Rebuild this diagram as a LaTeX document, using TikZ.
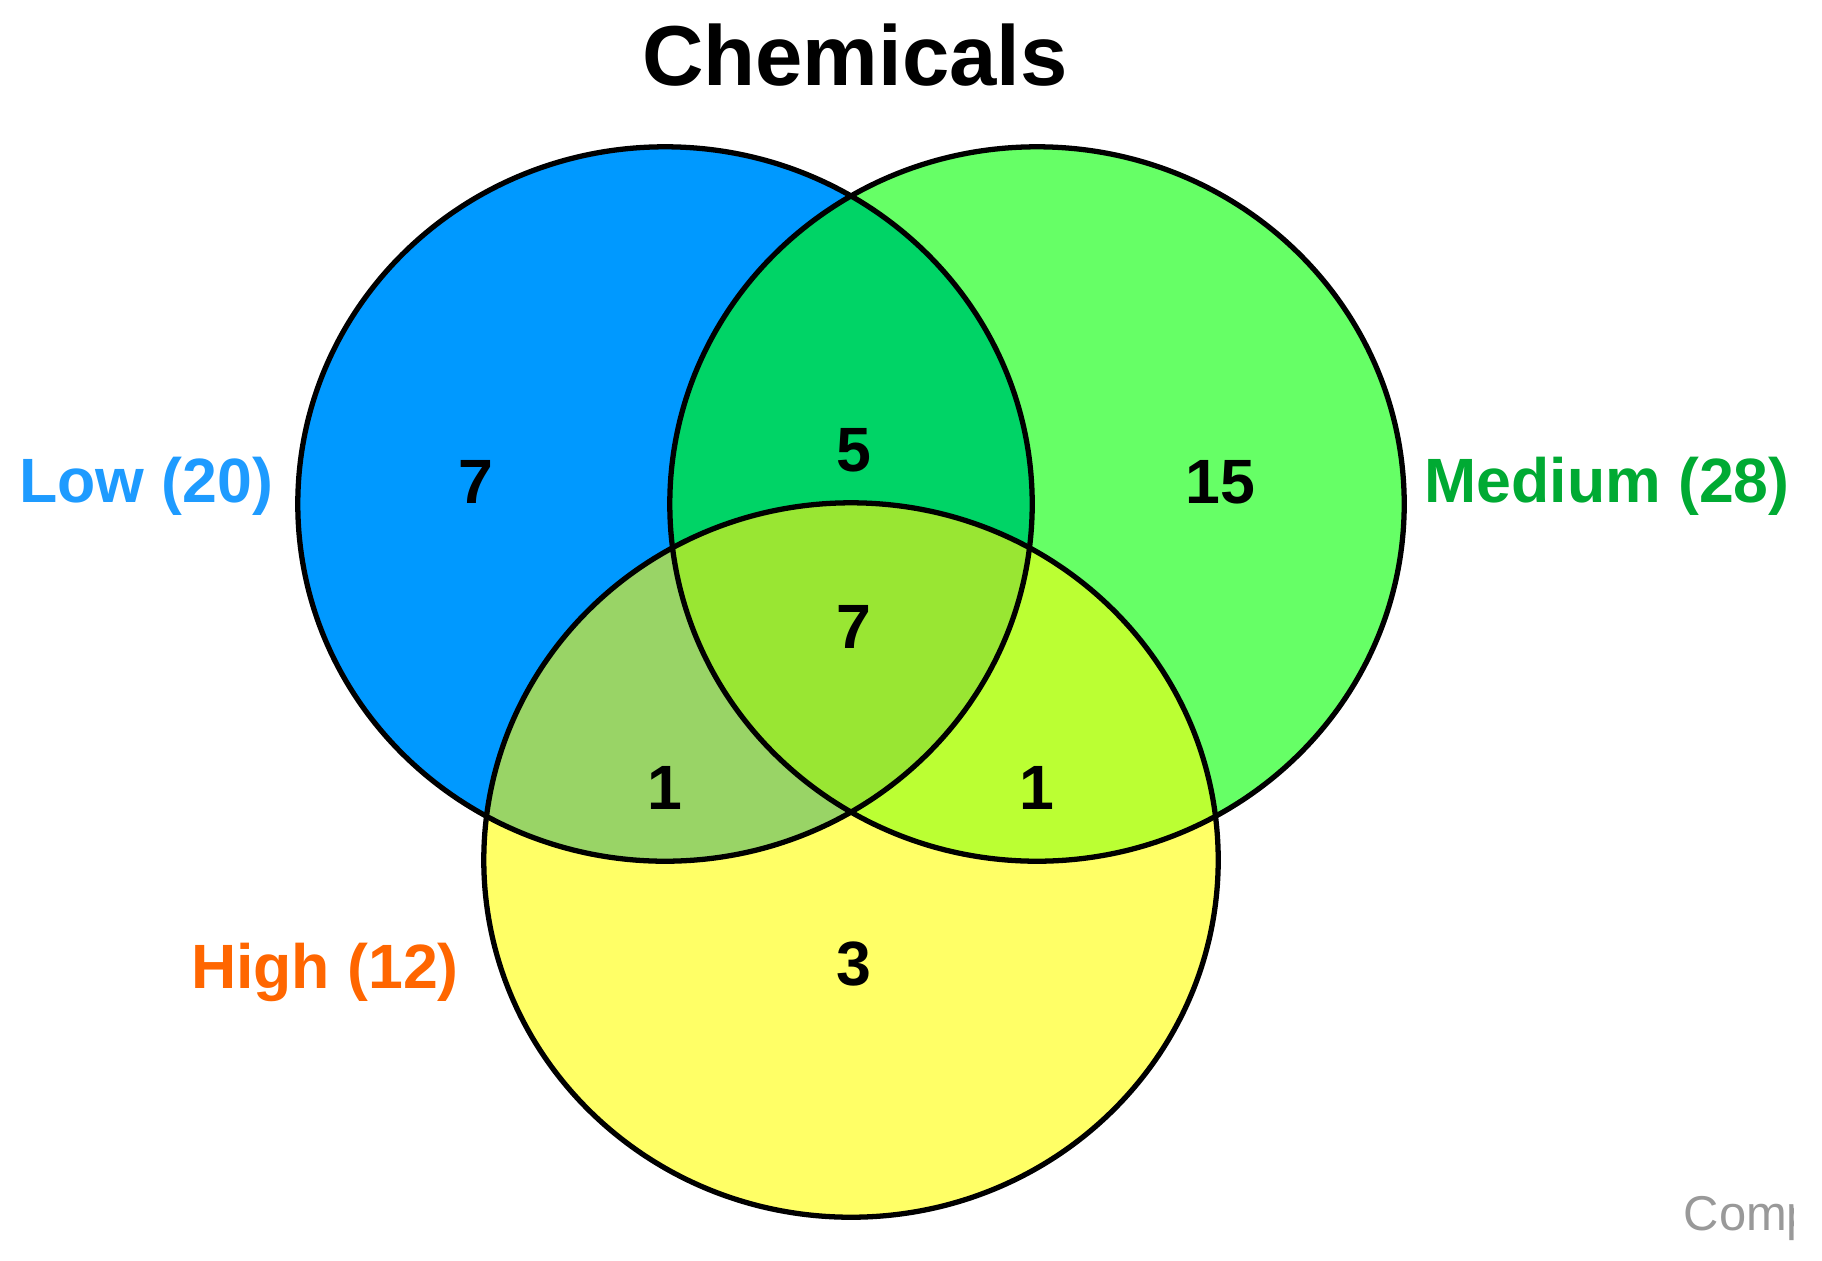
\documentclass[tikz,border=0pt]{standalone}
\usepackage{fontspec}
\setmainfont{Liberation Sans}
\definecolor{cblue}{HTML}{0099FF}
\definecolor{cgreen}{HTML}{66FF66}
\definecolor{cyellow}{HTML}{FFFF66}
\definecolor{cbg}{HTML}{00D466}
\definecolor{cby}{HTML}{99D466}
\definecolor{cgy}{HTML}{BBFF33}
\definecolor{call}{HTML}{99E633}
\definecolor{lblue}{HTML}{1E9BFF}
\definecolor{lgreen}{HTML}{00AA33}
\definecolor{lorange}{HTML}{FF6600}
\definecolor{cgray}{HTML}{999999}
\tikzset{
  setlabel/.style={font=\fontsize{17.8}{20}\selectfont\bfseries, anchor=base},
  countlabel/.style={font=\fontsize{17.8}{20}\selectfont\bfseries, anchor=base, text=black},
  outline/.style={draw=black, line width=1.5pt}
}
\begin{document}
\begin{tikzpicture}[x=0.01cm,y=-0.01cm]
\useasboundingbox (0,0) rectangle (1822,1260);
\fill[white] (0,0) rectangle (1822,1260);
\coordinate (cb) at (665,504);
\coordinate (cg) at (1037,504);
\coordinate (cy) at (851,860);
% base fills
\fill[cblue] (cb) ellipse [x radius=3.67cm, y radius=3.57cm];
\fill[cgreen] (cg) ellipse [x radius=3.67cm, y radius=3.57cm];
\fill[cyellow] (cy) ellipse [x radius=3.67cm, y radius=3.57cm];
% pairwise
\begin{scope}
  \clip (cb) ellipse [x radius=3.67cm, y radius=3.57cm];
  \fill[cbg] (cg) ellipse [x radius=3.67cm, y radius=3.57cm];
  \fill[cby] (cy) ellipse [x radius=3.67cm, y radius=3.57cm];
\end{scope}
\begin{scope}
  \clip (cg) ellipse [x radius=3.67cm, y radius=3.57cm];
  \fill[cgy] (cy) ellipse [x radius=3.67cm, y radius=3.57cm];
  \clip (cb) ellipse [x radius=3.67cm, y radius=3.57cm];
  \fill[call] (cy) ellipse [x radius=3.67cm, y radius=3.57cm];
\end{scope}
% outlines
\draw[outline] (cb) ellipse [x radius=3.67cm, y radius=3.57cm];
\draw[outline] (cg) ellipse [x radius=3.67cm, y radius=3.57cm];
\draw[outline] (cy) ellipse [x radius=3.67cm, y radius=3.57cm];
% title
\node[font=\fontsize{24.2}{28}\selectfont\bfseries, anchor=base] (title) at (855,85) {Chemicals};
% set labels
\node[setlabel, text=lblue] (low) at (146,502) {Low (20)};
\node[setlabel, text=lgreen] (medium) at (1607,502) {Medium (28)};
\node[setlabel, text=lorange] (high) at (325,988) {High (12)};
% counts
\node[countlabel] (n1) at (476,503) {7};
\node[countlabel] (n2) at (854,471) {5};
\node[countlabel] (n3) at (1220,503) {15};
\node[countlabel] (n4) at (854,648) {7};
\node[countlabel] (n5) at (665,809) {1};
\node[countlabel] (n6) at (1037,809) {1};
\node[countlabel] (n7) at (854,985) {3};
% cut-off text
\begin{scope}
  \clip (1600,1150) rectangle (1793,1260);
  \node[font=\fontsize{13.9}{16}\selectfont, text=cgray, anchor=base west, inner sep=0pt] (comp) at (1683,1230) {Comp};
\end{scope}
\end{tikzpicture}
\end{document}
